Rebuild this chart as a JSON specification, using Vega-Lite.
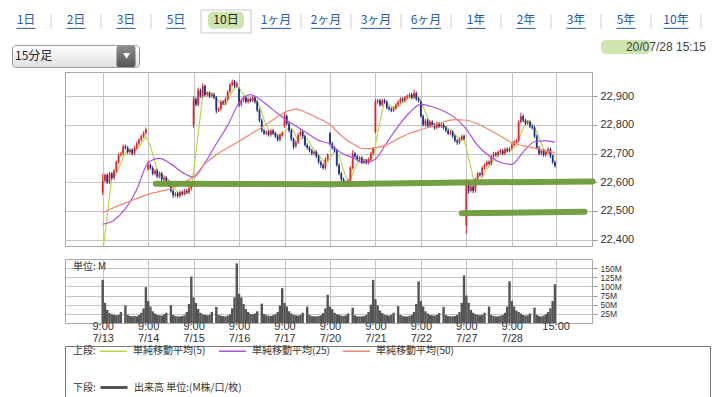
{
"$schema": "https://vega.github.io/schema/vega-lite/v6.json",
"background": "white",
"padding": 0,
"config": {
  "view": {"stroke": null},
  "font": "Noto Sans CJK JP",
  "axis": {"labelFont": "Liberation Sans", "labelColor": "#333333"},
  "legend": {"labelFont": "Noto Sans CJK JP", "titleFont": "Noto Sans CJK JP"}
},
"datasets": {
"tabs": [
{"tab":"1日","selected":false},{"tab":"2日","selected":false},{"tab":"3日","selected":false},{"tab":"5日","selected":false},{"tab":"10日","selected":true},{"tab":"1ヶ月","selected":false},{"tab":"2ヶ月","selected":false},{"tab":"3ヶ月","selected":false},{"tab":"6ヶ月","selected":false},{"tab":"1年","selected":false},{"tab":"2年","selected":false},{"tab":"3年","selected":false},{"tab":"5年","selected":false},{"tab":"10年","selected":false}
],
"bars": [
{"t":0,"o":22565,"h":22628,"l":22555,"c":22605,"v":118,"m":22353},
{"t":0.05,"o":22605,"h":22631,"l":22599,"c":22625,"v":55,"m":22420},
{"t":0.1,"o":22625,"h":22631,"l":22594,"c":22600,"v":36,"m":22481},
{"t":0.15,"o":22600,"h":22636,"l":22594,"c":22630,"v":27,"m":22550},
{"t":0.2,"o":22630,"h":22636,"l":22609,"c":22615,"v":24,"m":22615},
{"t":0.25,"o":22615,"h":22646,"l":22609,"c":22640,"v":22,"m":22622},
{"t":0.3,"o":22640,"h":22676,"l":22634,"c":22670,"v":21,"m":22631},
{"t":0.35,"o":22670,"h":22701,"l":22664,"c":22695,"v":22,"m":22650},
{"t":0.4,"o":22695,"h":22706,"l":22689,"c":22700,"v":30,"m":22664},
{"t":0.45,"o":22700,"h":22731,"l":22694,"c":22725,"v":null,"m":22686},
{"t":0.5,"o":22725,"h":22731,"l":22714,"c":22720,"v":48,"m":22702},
{"t":0.55,"o":22720,"h":22726,"l":22699,"c":22705,"v":22,"m":22709},
{"t":0.6,"o":22705,"h":22718,"l":22699,"c":22712,"v":19,"m":22712},
{"t":0.65,"o":22712,"h":22718,"l":22694,"c":22700,"v":18,"m":22712},
{"t":0.7,"o":22700,"h":22726,"l":22694,"c":22720,"v":19,"m":22711},
{"t":0.75,"o":22720,"h":22741,"l":22714,"c":22735,"v":18,"m":22714},
{"t":0.8,"o":22735,"h":22754,"l":22729,"c":22748,"v":22,"m":22723},
{"t":0.85,"o":22748,"h":22766,"l":22742,"c":22760,"v":28,"m":22733},
{"t":0.9,"o":22760,"h":22778,"l":22754,"c":22772,"v":40,"m":22747},
{"t":0.95,"o":22772,"h":22791,"l":22766,"c":22785,"v":98,"m":22760},
{"t":1,"o":22645,"h":22675,"l":22640,"c":22660,"v":60,"m":22745},
{"t":1.05,"o":22660,"h":22666,"l":22644,"c":22650,"v":45,"m":22725},
{"t":1.1,"o":22650,"h":22656,"l":22624,"c":22630,"v":32,"m":22699},
{"t":1.15,"o":22630,"h":22646,"l":22624,"c":22640,"v":26,"m":22673},
{"t":1.2,"o":22640,"h":22646,"l":22614,"c":22620,"v":22,"m":22640},
{"t":1.25,"o":22620,"h":22636,"l":22614,"c":22630,"v":21,"m":22634},
{"t":1.3,"o":22630,"h":22636,"l":22604,"c":22610,"v":20,"m":22626},
{"t":1.35,"o":22610,"h":22621,"l":22604,"c":22615,"v":24,"m":22623},
{"t":1.4,"o":22615,"h":22621,"l":22594,"c":22600,"v":28,"m":22615},
{"t":1.45,"o":22600,"h":22606,"l":22584,"c":22590,"v":null,"m":22609},
{"t":1.5,"o":22590,"h":22596,"l":22564,"c":22570,"v":49,"m":22597},
{"t":1.55,"o":22570,"h":22576,"l":22546,"c":22555,"v":22,"m":22586},
{"t":1.6,"o":22555,"h":22566,"l":22549,"c":22560,"v":19,"m":22575},
{"t":1.65,"o":22560,"h":22566,"l":22546,"c":22552,"v":18,"m":22565},
{"t":1.7,"o":22552,"h":22571,"l":22546,"c":22565,"v":18,"m":22560},
{"t":1.75,"o":22565,"h":22571,"l":22554,"c":22560,"v":19,"m":22558},
{"t":1.8,"o":22560,"h":22576,"l":22554,"c":22570,"v":21,"m":22561},
{"t":1.85,"o":22570,"h":22576,"l":22559,"c":22565,"v":30,"m":22562},
{"t":1.9,"o":22565,"h":22586,"l":22559,"c":22580,"v":52,"m":22568},
{"t":1.95,"o":22580,"h":22593,"l":22574,"c":22587,"v":127,"m":22572},
{"t":2,"o":22800,"h":22900,"l":22790,"c":22890,"v":70,"m":22638},
{"t":2.05,"o":22890,"h":22896,"l":22864,"c":22870,"v":55,"m":22698},
{"t":2.1,"o":22870,"h":22930,"l":22864,"c":22920,"v":38,"m":22769},
{"t":2.15,"o":22920,"h":22926,"l":22894,"c":22900,"v":28,"m":22833},
{"t":2.2,"o":22900,"h":22945,"l":22894,"c":22935,"v":24,"m":22903},
{"t":2.25,"o":22935,"h":22941,"l":22899,"c":22905,"v":22,"m":22906},
{"t":2.3,"o":22905,"h":22916,"l":22899,"c":22910,"v":21,"m":22914},
{"t":2.35,"o":22910,"h":22916,"l":22894,"c":22900,"v":22,"m":22910},
{"t":2.4,"o":22900,"h":22911,"l":22894,"c":22905,"v":30,"m":22911},
{"t":2.45,"o":22905,"h":22911,"l":22889,"c":22895,"v":null,"m":22903},
{"t":2.5,"o":22895,"h":22901,"l":22840,"c":22850,"v":44,"m":22892},
{"t":2.55,"o":22850,"h":22861,"l":22844,"c":22855,"v":22,"m":22881},
{"t":2.6,"o":22855,"h":22886,"l":22849,"c":22880,"v":20,"m":22877},
{"t":2.65,"o":22880,"h":22886,"l":22869,"c":22875,"v":19,"m":22871},
{"t":2.7,"o":22875,"h":22896,"l":22869,"c":22890,"v":18,"m":22870},
{"t":2.75,"o":22890,"h":22921,"l":22884,"c":22915,"v":20,"m":22883},
{"t":2.8,"o":22915,"h":22946,"l":22909,"c":22940,"v":24,"m":22900},
{"t":2.85,"o":22940,"h":22958,"l":22934,"c":22950,"v":40,"m":22914},
{"t":2.9,"o":22950,"h":22956,"l":22929,"c":22935,"v":70,"m":22926},
{"t":2.95,"o":22935,"h":22951,"l":22929,"c":22945,"v":163,"m":22937},
{"t":3,"o":22925,"h":22930,"l":22862,"c":22870,"v":80,"m":22928},
{"t":3.05,"o":22870,"h":22891,"l":22864,"c":22885,"v":70,"m":22917},
{"t":3.1,"o":22885,"h":22901,"l":22879,"c":22895,"v":52,"m":22906},
{"t":3.15,"o":22895,"h":22901,"l":22874,"c":22880,"v":38,"m":22895},
{"t":3.2,"o":22880,"h":22896,"l":22874,"c":22890,"v":30,"m":22884},
{"t":3.25,"o":22890,"h":22896,"l":22879,"c":22885,"v":25,"m":22887},
{"t":3.3,"o":22885,"h":22901,"l":22879,"c":22895,"v":24,"m":22889},
{"t":3.35,"o":22895,"h":22901,"l":22874,"c":22880,"v":26,"m":22886},
{"t":3.4,"o":22880,"h":22886,"l":22844,"c":22850,"v":32,"m":22880},
{"t":3.45,"o":22850,"h":22856,"l":22809,"c":22815,"v":null,"m":22865},
{"t":3.5,"o":22815,"h":22821,"l":22774,"c":22780,"v":53,"m":22844},
{"t":3.55,"o":22780,"h":22786,"l":22764,"c":22770,"v":25,"m":22819},
{"t":3.6,"o":22770,"h":22781,"l":22764,"c":22775,"v":21,"m":22798},
{"t":3.65,"o":22775,"h":22781,"l":22759,"c":22765,"v":20,"m":22781},
{"t":3.7,"o":22765,"h":22786,"l":22759,"c":22780,"v":19,"m":22774},
{"t":3.75,"o":22780,"h":22786,"l":22764,"c":22770,"v":21,"m":22772},
{"t":3.8,"o":22770,"h":22776,"l":22754,"c":22760,"v":24,"m":22770},
{"t":3.85,"o":22760,"h":22766,"l":22742,"c":22748,"v":30,"m":22765},
{"t":3.9,"o":22748,"h":22771,"l":22742,"c":22765,"v":48,"m":22765},
{"t":3.95,"o":22765,"h":22778,"l":22759,"c":22772,"v":95,"m":22763},
{"t":4,"o":22795,"h":22840,"l":22790,"c":22830,"v":55,"m":22775},
{"t":4.05,"o":22830,"h":22836,"l":22799,"c":22805,"v":45,"m":22784},
{"t":4.1,"o":22805,"h":22811,"l":22774,"c":22780,"v":32,"m":22790},
{"t":4.15,"o":22780,"h":22786,"l":22744,"c":22750,"v":26,"m":22787},
{"t":4.2,"o":22750,"h":22756,"l":22715,"c":22725,"v":22,"m":22778},
{"t":4.25,"o":22725,"h":22746,"l":22719,"c":22740,"v":21,"m":22760},
{"t":4.3,"o":22740,"h":22771,"l":22734,"c":22765,"v":20,"m":22752},
{"t":4.35,"o":22765,"h":22784,"l":22759,"c":22775,"v":22,"m":22751},
{"t":4.4,"o":22775,"h":22781,"l":22754,"c":22760,"v":28,"m":22753},
{"t":4.45,"o":22760,"h":22766,"l":22724,"c":22730,"v":null,"m":22754},
{"t":4.5,"o":22730,"h":22736,"l":22714,"c":22720,"v":45,"m":22750},
{"t":4.55,"o":22720,"h":22726,"l":22704,"c":22710,"v":22,"m":22739},
{"t":4.6,"o":22710,"h":22716,"l":22694,"c":22700,"v":19,"m":22724},
{"t":4.65,"o":22700,"h":22711,"l":22694,"c":22705,"v":18,"m":22713},
{"t":4.7,"o":22705,"h":22711,"l":22684,"c":22690,"v":18,"m":22705},
{"t":4.75,"o":22690,"h":22696,"l":22664,"c":22670,"v":19,"m":22695},
{"t":4.8,"o":22670,"h":22676,"l":22650,"c":22660,"v":21,"m":22685},
{"t":4.85,"o":22660,"h":22666,"l":22644,"c":22650,"v":27,"m":22675},
{"t":4.9,"o":22650,"h":22686,"l":22644,"c":22680,"v":40,"m":22670},
{"t":4.95,"o":22680,"h":22701,"l":22674,"c":22695,"v":77,"m":22671},
{"t":5,"o":22770,"h":22775,"l":22728,"c":22735,"v":45,"m":22684},
{"t":5.05,"o":22735,"h":22741,"l":22714,"c":22720,"v":38,"m":22696},
{"t":5.1,"o":22720,"h":22726,"l":22704,"c":22710,"v":28,"m":22708},
{"t":5.15,"o":22710,"h":22716,"l":22654,"c":22660,"v":24,"m":22704},
{"t":5.2,"o":22660,"h":22666,"l":22624,"c":22630,"v":22,"m":22691},
{"t":5.25,"o":22630,"h":22636,"l":22604,"c":22610,"v":20,"m":22666},
{"t":5.3,"o":22610,"h":22616,"l":22594,"c":22600,"v":19,"m":22642},
{"t":5.35,"o":22600,"h":22606,"l":22588,"c":22595,"v":21,"m":22619},
{"t":5.4,"o":22595,"h":22611,"l":22589,"c":22605,"v":26,"m":22608},
{"t":5.45,"o":22605,"h":22656,"l":22599,"c":22650,"v":null,"m":22612},
{"t":5.5,"o":22650,"h":22712,"l":22644,"c":22700,"v":42,"m":22630},
{"t":5.55,"o":22700,"h":22706,"l":22684,"c":22690,"v":21,"m":22648},
{"t":5.6,"o":22690,"h":22696,"l":22674,"c":22680,"v":18,"m":22665},
{"t":5.65,"o":22680,"h":22691,"l":22674,"c":22685,"v":18,"m":22681},
{"t":5.7,"o":22685,"h":22691,"l":22664,"c":22670,"v":18,"m":22685},
{"t":5.75,"o":22670,"h":22681,"l":22664,"c":22675,"v":19,"m":22680},
{"t":5.8,"o":22675,"h":22681,"l":22662,"c":22668,"v":22,"m":22676},
{"t":5.85,"o":22668,"h":22686,"l":22662,"c":22680,"v":30,"m":22676},
{"t":5.9,"o":22680,"h":22706,"l":22674,"c":22700,"v":50,"m":22679},
{"t":5.95,"o":22700,"h":22723,"l":22694,"c":22717,"v":118,"m":22688},
{"t":6,"o":22775,"h":22890,"l":22770,"c":22880,"v":65,"m":22729},
{"t":6.05,"o":22880,"h":22891,"l":22874,"c":22885,"v":48,"m":22772},
{"t":6.1,"o":22885,"h":22891,"l":22864,"c":22870,"v":34,"m":22810},
{"t":6.15,"o":22870,"h":22891,"l":22864,"c":22885,"v":27,"m":22847},
{"t":6.2,"o":22885,"h":22891,"l":22874,"c":22880,"v":23,"m":22880},
{"t":6.25,"o":22880,"h":22886,"l":22854,"c":22860,"v":21,"m":22876},
{"t":6.3,"o":22860,"h":22866,"l":22849,"c":22855,"v":20,"m":22870},
{"t":6.35,"o":22855,"h":22861,"l":22844,"c":22850,"v":22,"m":22866},
{"t":6.4,"o":22850,"h":22864,"l":22844,"c":22858,"v":28,"m":22861},
{"t":6.45,"o":22858,"h":22876,"l":22852,"c":22870,"v":null,"m":22859},
{"t":6.5,"o":22870,"h":22886,"l":22864,"c":22880,"v":46,"m":22863},
{"t":6.55,"o":22880,"h":22896,"l":22874,"c":22890,"v":22,"m":22870},
{"t":6.6,"o":22890,"h":22896,"l":22879,"c":22885,"v":19,"m":22877},
{"t":6.65,"o":22885,"h":22901,"l":22879,"c":22895,"v":18,"m":22884},
{"t":6.7,"o":22895,"h":22906,"l":22889,"c":22900,"v":18,"m":22890},
{"t":6.75,"o":22900,"h":22911,"l":22894,"c":22905,"v":19,"m":22895},
{"t":6.8,"o":22905,"h":22911,"l":22889,"c":22895,"v":22,"m":22896},
{"t":6.85,"o":22895,"h":22923,"l":22889,"c":22910,"v":30,"m":22901},
{"t":6.9,"o":22910,"h":22916,"l":22884,"c":22890,"v":52,"m":22900},
{"t":6.95,"o":22890,"h":22896,"l":22878,"c":22884,"v":114,"m":22897},
{"t":7,"o":22880,"h":22885,"l":22825,"c":22830,"v":60,"m":22882},
{"t":7.05,"o":22830,"h":22836,"l":22794,"c":22800,"v":45,"m":22863},
{"t":7.1,"o":22800,"h":22821,"l":22794,"c":22815,"v":32,"m":22844},
{"t":7.15,"o":22815,"h":22821,"l":22789,"c":22795,"v":26,"m":22825},
{"t":7.2,"o":22795,"h":22816,"l":22789,"c":22810,"v":22,"m":22810},
{"t":7.25,"o":22810,"h":22816,"l":22794,"c":22800,"v":21,"m":22804},
{"t":7.3,"o":22800,"h":22806,"l":22784,"c":22790,"v":20,"m":22802},
{"t":7.35,"o":22790,"h":22811,"l":22784,"c":22805,"v":22,"m":22800},
{"t":7.4,"o":22805,"h":22811,"l":22789,"c":22795,"v":27,"m":22800},
{"t":7.45,"o":22795,"h":22806,"l":22789,"c":22800,"v":null,"m":22798},
{"t":7.5,"o":22800,"h":22806,"l":22784,"c":22790,"v":44,"m":22796},
{"t":7.55,"o":22790,"h":22796,"l":22774,"c":22780,"v":22,"m":22794},
{"t":7.6,"o":22780,"h":22786,"l":22764,"c":22770,"v":19,"m":22787},
{"t":7.65,"o":22770,"h":22781,"l":22764,"c":22775,"v":18,"m":22783},
{"t":7.7,"o":22775,"h":22781,"l":22754,"c":22760,"v":18,"m":22775},
{"t":7.75,"o":22760,"h":22766,"l":22739,"c":22745,"v":19,"m":22766},
{"t":7.8,"o":22745,"h":22751,"l":22730,"c":22738,"v":22,"m":22758},
{"t":7.85,"o":22738,"h":22756,"l":22732,"c":22750,"v":30,"m":22754},
{"t":7.9,"o":22750,"h":22766,"l":22744,"c":22760,"v":55,"m":22751},
{"t":7.95,"o":22760,"h":22766,"l":22746,"c":22752,"v":130,"m":22749},
{"t":8,"o":22450,"h":22610,"l":22420,"c":22600,"v":75,"m":22720},
{"t":8.05,"o":22600,"h":22606,"l":22560,"c":22570,"v":55,"m":22686},
{"t":8.1,"o":22570,"h":22591,"l":22564,"c":22585,"v":36,"m":22653},
{"t":8.15,"o":22585,"h":22591,"l":22562,"c":22570,"v":28,"m":22615},
{"t":8.2,"o":22570,"h":22616,"l":22564,"c":22610,"v":24,"m":22587},
{"t":8.25,"o":22610,"h":22636,"l":22604,"c":22630,"v":22,"m":22593},
{"t":8.3,"o":22630,"h":22636,"l":22619,"c":22625,"v":21,"m":22604},
{"t":8.35,"o":22625,"h":22656,"l":22619,"c":22650,"v":22,"m":22617},
{"t":8.4,"o":22650,"h":22666,"l":22644,"c":22660,"v":28,"m":22635},
{"t":8.45,"o":22660,"h":22676,"l":22654,"c":22670,"v":null,"m":22647},
{"t":8.5,"o":22670,"h":22676,"l":22659,"c":22665,"v":45,"m":22654},
{"t":8.55,"o":22665,"h":22696,"l":22659,"c":22690,"v":22,"m":22667},
{"t":8.6,"o":22690,"h":22706,"l":22684,"c":22700,"v":19,"m":22677},
{"t":8.65,"o":22700,"h":22706,"l":22689,"c":22695,"v":18,"m":22684},
{"t":8.7,"o":22695,"h":22711,"l":22689,"c":22705,"v":18,"m":22691},
{"t":8.75,"o":22705,"h":22716,"l":22699,"c":22710,"v":20,"m":22700},
{"t":8.8,"o":22710,"h":22716,"l":22694,"c":22700,"v":22,"m":22702},
{"t":8.85,"o":22700,"h":22721,"l":22694,"c":22715,"v":28,"m":22705},
{"t":8.9,"o":22715,"h":22721,"l":22704,"c":22710,"v":45,"m":22708},
{"t":8.95,"o":22710,"h":22722,"l":22704,"c":22716,"v":114,"m":22710},
{"t":9,"o":22720,"h":22736,"l":22714,"c":22730,"v":60,"m":22714},
{"t":9.05,"o":22730,"h":22746,"l":22724,"c":22740,"v":45,"m":22722},
{"t":9.1,"o":22740,"h":22751,"l":22734,"c":22745,"v":34,"m":22728},
{"t":9.15,"o":22745,"h":22816,"l":22739,"c":22810,"v":30,"m":22748},
{"t":9.2,"o":22810,"h":22842,"l":22804,"c":22830,"v":26,"m":22771},
{"t":9.25,"o":22830,"h":22836,"l":22809,"c":22815,"v":22,"m":22788},
{"t":9.3,"o":22815,"h":22821,"l":22799,"c":22805,"v":20,"m":22801},
{"t":9.35,"o":22805,"h":22816,"l":22799,"c":22810,"v":21,"m":22814},
{"t":9.4,"o":22810,"h":22816,"l":22789,"c":22795,"v":26,"m":22811},
{"t":9.45,"o":22795,"h":22801,"l":22784,"c":22790,"v":null,"m":22803},
{"t":9.5,"o":22790,"h":22796,"l":22754,"c":22760,"v":42,"m":22792},
{"t":9.55,"o":22760,"h":22766,"l":22714,"c":22720,"v":22,"m":22775},
{"t":9.6,"o":22720,"h":22726,"l":22694,"c":22700,"v":19,"m":22753},
{"t":9.65,"o":22700,"h":22716,"l":22694,"c":22710,"v":18,"m":22736},
{"t":9.7,"o":22710,"h":22716,"l":22689,"c":22695,"v":20,"m":22717},
{"t":9.75,"o":22695,"h":22711,"l":22689,"c":22705,"v":24,"m":22706},
{"t":9.8,"o":22705,"h":22721,"l":22699,"c":22715,"v":30,"m":22705},
{"t":9.85,"o":22715,"h":22721,"l":22684,"c":22690,"v":40,"m":22703},
{"t":9.9,"o":22690,"h":22696,"l":22664,"c":22670,"v":60,"m":22695},
{"t":9.95,"o":22670,"h":22676,"l":22651,"c":22657,"v":106,"m":22687}
],
"ma": [
{"t":0,"ma25":22454,"ma50":22494},{"t":0.25,"ma25":22468,"ma50":22512},{"t":0.5,"ma25":22508,"ma50":22528},{"t":0.75,"ma25":22575,"ma50":22543},
{"t":1,"ma25":22668,"ma50":22558},{"t":1.25,"ma25":22683,"ma50":22568},{"t":1.5,"ma25":22664,"ma50":22578},{"t":1.75,"ma25":22635,"ma50":22596},
{"t":2,"ma25":22618,"ma50":22620},{"t":2.25,"ma25":22668,"ma50":22664},{"t":2.5,"ma25":22734,"ma50":22696},{"t":2.75,"ma25":22798,"ma50":22720},
{"t":3,"ma25":22876,"ma50":22743},{"t":3.25,"ma25":22905,"ma50":22767},{"t":3.5,"ma25":22884,"ma50":22791},{"t":3.75,"ma25":22852,"ma50":22818},
{"t":4,"ma25":22821,"ma50":22843},{"t":4.25,"ma25":22796,"ma50":22855},{"t":4.5,"ma25":22771,"ma50":22841},{"t":4.75,"ma25":22746,"ma50":22822},
{"t":5,"ma25":22733,"ma50":22801},{"t":5.25,"ma25":22702,"ma50":22762},{"t":5.5,"ma25":22686,"ma50":22734},{"t":5.75,"ma25":22667,"ma50":22717},
{"t":6,"ma25":22681,"ma50":22720},{"t":6.25,"ma25":22738,"ma50":22730},{"t":6.5,"ma25":22795,"ma50":22752},{"t":6.75,"ma25":22842,"ma50":22770},
{"t":7,"ma25":22871,"ma50":22783},{"t":7.25,"ma25":22863,"ma50":22796},{"t":7.5,"ma25":22848,"ma50":22810},{"t":7.75,"ma25":22825,"ma50":22818},
{"t":8,"ma25":22785,"ma50":22816},{"t":8.25,"ma25":22728,"ma50":22803},{"t":8.5,"ma25":22692,"ma50":22783},{"t":8.75,"ma25":22669,"ma50":22761},
{"t":9,"ma25":22662,"ma50":22738},{"t":9.25,"ma25":22705,"ma50":22727},{"t":9.5,"ma25":22741,"ma50":22719},{"t":9.75,"ma25":22744,"ma50":22710},
{"t":9.95,"ma25":22740,"ma50":22703}
],
"notes": [
{"id":"a","t":1.17,"p":22595},{"id":"a","t":5.0,"p":22593},{"id":"a","t":7.9,"p":22599},{"id":"a","t":10.78,"p":22603},
{"id":"b","t":7.9,"p":22492},{"id":"b","t":10.6,"p":22497}
]
},
"concat": [
{
  "width": 700,
  "height": 70,
  "layer": [
    {"data": {"name": "tabs"}, "transform": [{"filter": "datum.selected"}],
     "mark": {"type": "rect", "fill": "#ffffff", "stroke": "#c8c8c8", "strokeWidth": 1},
     "encoding": {
       "x": {"field": "tab", "type": "nominal", "scale": {"type": "band", "domain": ["1日","2日","3日","5日","10日","1ヶ月","2ヶ月","3ヶ月","6ヶ月","1年","2年","3年","5年","10年"], "range": [-64, 636], "paddingInner": 0, "paddingOuter": 0}, "axis": null},
       "y": {"datum": "tabs", "type": "nominal", "scale": {"type": "band", "domain": ["tabs","menu"], "paddingInner": 0.343, "paddingOuter": 0.171, "align": 0.833}, "axis": null}
     }},
    {"data": {"name": "tabs"}, "transform": [{"filter": "datum.selected"}],
     "mark": {"type": "tick", "orient": "horizontal", "size": 36, "thickness": 17, "color": "#cde5ae", "cornerRadius": 5, "opacity": 1},
     "encoding": {"x": {"field": "tab", "type": "nominal", "bandPosition": 0.45}, "y": {"datum": "tabs", "type": "nominal", "bandPosition": 0.45}}},
    {"data": {"name": "tabs"}, "transform": [{"filter": "!datum.selected && datum.tab != '5日'"}],
     "mark": {"type": "tick", "orient": "vertical", "size": 15, "thickness": 1, "color": "#d0d0d0", "opacity": 1},
     "encoding": {"x": {"field": "tab", "type": "nominal", "bandPosition": 1}, "y": {"datum": "tabs", "type": "nominal", "bandPosition": 0.45}}},
    {"data": {"name": "tabs"},
     "mark": {"type": "text", "fontSize": 12, "baseline": "middle"},
     "encoding": {"x": {"field": "tab", "type": "nominal"}, "y": {"datum": "tabs", "type": "nominal", "bandPosition": 0.45}, "text": {"field": "tab"},
       "color": {"condition": {"test": "datum.selected", "value": "#222222"}, "value": "#2559b0"}}},
    {"data": {"name": "tabs"}, "transform": [{"filter": "!datum.selected && length(datum.tab) == 2"}],
     "mark": {"type": "tick", "orient": "horizontal", "size": 19, "thickness": 1, "color": "#2559b0", "opacity": 1},
     "encoding": {"x": {"field": "tab", "type": "nominal"}, "y": {"datum": "tabs", "type": "nominal", "bandPosition": 0.8}}},
    {"data": {"name": "tabs"}, "transform": [{"filter": "datum.tab == '10年'"}],
     "mark": {"type": "tick", "orient": "horizontal", "size": 25, "thickness": 1, "color": "#2559b0", "opacity": 1},
     "encoding": {"x": {"field": "tab", "type": "nominal"}, "y": {"datum": "tabs", "type": "nominal", "bandPosition": 0.8}}},
    {"data": {"name": "tabs"}, "transform": [{"filter": "datum.tab == '1ヶ月' || datum.tab == '2ヶ月' || datum.tab == '3ヶ月' || datum.tab == '6ヶ月'"}],
     "mark": {"type": "tick", "orient": "horizontal", "size": 30, "thickness": 1, "color": "#2559b0", "opacity": 1},
     "encoding": {"x": {"field": "tab", "type": "nominal"}, "y": {"datum": "tabs", "type": "nominal", "bandPosition": 0.8}}},
    {"data": {"values": [{"anchor": "2日"}]},
     "mark": {"type": "tick", "orient": "horizontal", "size": 127, "thickness": 22, "cornerRadius": 3, "stroke": "#9a9a9a", "strokeWidth": 1, "opacity": 1,
       "color": {"gradient": "linear", "x1": 0, "y1": 0, "x2": 0, "y2": 1, "stops": [{"offset": 0, "color": "#ffffff"}, {"offset": 1, "color": "#e0e0e0"}]}},
     "encoding": {"x": {"field": "anchor", "type": "nominal", "bandPosition": 0.43}, "y": {"datum": "menu", "type": "nominal", "bandPosition": 0.5}}},
    {"data": {"values": [{"anchor": "3日"}]},
     "mark": {"type": "tick", "orient": "horizontal", "size": 19, "thickness": 21, "cornerRadius": 2, "opacity": 1,
       "color": {"gradient": "linear", "x1": 0, "y1": 0, "x2": 0, "y2": 1, "stops": [{"offset": 0, "color": "#8c8c8c"}, {"offset": 1, "color": "#555555"}]}},
     "encoding": {"x": {"field": "anchor", "type": "nominal", "bandPosition": 0.51}, "y": {"datum": "menu", "type": "nominal", "bandPosition": 0.5}}},
    {"data": {"values": [{"label": "▼"}]},
     "mark": {"type": "text", "fontSize": 7, "color": "#ffffff", "baseline": "middle"},
     "encoding": {"x": {"datum": "3日", "type": "nominal", "bandPosition": 0.51}, "y": {"datum": "menu", "type": "nominal", "bandPosition": 0.5}, "text": {"field": "label"}}},
    {"data": {"values": [{"label": "15分足"}]},
     "mark": {"type": "text", "fontSize": 12, "align": "left", "baseline": "middle", "color": "#222222"},
     "encoding": {"x": {"datum": "1日", "type": "nominal", "bandPosition": 0.28}, "y": {"datum": "menu", "type": "nominal", "bandPosition": 0.5}, "text": {"field": "label"}}},
    {"data": {"values": [{"anchor": "5年"}]},
     "mark": {"type": "tick", "orient": "horizontal", "size": 50, "thickness": 14, "cornerRadius": 5, "color": "#cde5ae", "opacity": 1},
     "encoding": {"x": {"field": "anchor", "type": "nominal", "bandPosition": 0.86}, "y": {"datum": "menu", "type": "nominal", "bandPosition": 0.09}}},
    {"data": {"values": [{"label": "20/07/28 15:15"}]},
     "mark": {"type": "text", "fontSize": 12, "align": "right", "baseline": "middle", "color": "#444444", "font": "Liberation Sans"},
     "encoding": {"x": {"datum": "10年", "type": "nominal", "bandPosition": 1.1}, "y": {"datum": "menu", "type": "nominal", "bandPosition": 0.09}, "text": {"field": "label"}}}
  ]
},
{
  "vconcat": [
    {
      "width": 527,
      "height": 174,
      "view": {"stroke": "#a8a8a8", "fill": "#ffffff"},
      "layer": [
        {"data": {"name": "bars"},
         "mark": {"type": "line", "color": "#bcd64a", "strokeWidth": 1.2, "clip": true},
         "encoding": {
           "x": {"field": "t", "type": "quantitative", "scale": {"domain": [-0.719, 10.655], "nice": false, "zero": false},
                 "axis": {"values": [0,1,2,3,4,5,6,7,8,9,9.965], "grid": true, "gridColor": "#c4c4c4", "labels": false, "ticks": false, "domain": false, "title": null}},
           "y": {"field": "m", "type": "quantitative", "scale": {"domain": [22378, 22984], "nice": false, "zero": false},
                 "axis": {"orient": "left", "labelOpacity": 0, "ticks": false, "domain": false, "grid": false, "title": null, "minExtent": 64, "maxExtent": 64}}
         }},
        {"data": {"name": "bars"},
         "mark": {"type": "rule", "strokeWidth": 1},
         "encoding": {
           "x": {"field": "t", "type": "quantitative", "scale": {"domain": [-0.719, 10.655], "nice": false, "zero": false}},
           "y": {"field": "l", "type": "quantitative", "scale": {"domain": [22378, 22984], "nice": false, "zero": false},
                 "axis": {"orient": "right", "values": [22400,22500,22600,22700,22800,22900], "labelExpr": "format(datum.value, ',')", "grid": true, "gridColor": "#c4c4c4", "domain": false, "tickSize": 5, "tickColor": "#999999", "labelFontSize": 11, "labelPadding": 3, "title": null}},
           "y2": {"field": "h"},
           "color": {"condition": {"test": "datum.c < datum.o", "value": "#1d3287"}, "value": "#e3262b"}
         }},
        {"data": {"name": "bars"},
         "mark": {"type": "bar", "size": 1.8},
         "encoding": {
           "x": {"field": "t", "type": "quantitative", "scale": {"domain": [-0.719, 10.655], "nice": false, "zero": false}},
           "y": {"field": "o", "type": "quantitative", "scale": {"domain": [22378, 22984], "nice": false, "zero": false}, "axis": null},
           "y2": {"field": "c"},
           "color": {"condition": {"test": "datum.c < datum.o", "value": "#1d3287"}, "value": "#e3262b"}
         }},
        {"data": {"name": "ma"},
         "mark": {"type": "line", "color": "#a952dd", "strokeWidth": 1.2, "interpolate": "monotone"},
         "encoding": {
           "x": {"field": "t", "type": "quantitative", "scale": {"domain": [-0.719, 10.655], "nice": false, "zero": false}},
           "y": {"field": "ma25", "type": "quantitative", "scale": {"domain": [22378, 22984], "nice": false, "zero": false}, "axis": null}
         }},
        {"data": {"name": "ma"},
         "mark": {"type": "line", "color": "#f0876e", "strokeWidth": 1.2, "interpolate": "monotone"},
         "encoding": {
           "x": {"field": "t", "type": "quantitative", "scale": {"domain": [-0.719, 10.655], "nice": false, "zero": false}},
           "y": {"field": "ma50", "type": "quantitative", "scale": {"domain": [22378, 22984], "nice": false, "zero": false}, "axis": null}
         }},
        {"data": {"name": "notes"},
         "mark": {"type": "line", "color": "#6c9a3b", "strokeWidth": 6, "strokeCap": "round", "opacity": 0.95},
         "encoding": {
           "x": {"field": "t", "type": "quantitative", "scale": {"domain": [-0.719, 10.655], "nice": false, "zero": false}},
           "y": {"field": "p", "type": "quantitative", "scale": {"domain": [22378, 22984], "nice": false, "zero": false}, "axis": null},
           "detail": {"field": "id"}
         }}
      ],
      "resolve": {"axis": {"y": "independent"}}
    },
    {
      "vconcat": [
        {
          "width": 527,
          "height": 64,
          "view": {"stroke": "#a8a8a8", "fill": "#ffffff"},
          "layer": [
            {"data": {"name": "bars"},
             "mark": {"type": "bar", "size": 2.4, "color": "#555555"},
             "encoding": {
               "x": {"field": "t", "type": "quantitative", "scale": {"domain": [-0.719, 10.655], "nice": false, "zero": false},
                     "axis": {"values": [0,1,2,3,4,5,6,7,8,9,9.965], "grid": true, "gridColor": "#c4c4c4", "ticks": false, "domain": false, "labelFontSize": 11, "labelPadding": -3, "labelLineHeight": 12, "labelBaseline": "top", "labelOverlap": false, "labelBound": false, "title": null,
                              "labelExpr": "datum.value > 9.5 ? '15:00' : ['9:00', ['7/13','7/14','7/15','7/16','7/17','7/20','7/21','7/22','7/27','7/28'][datum.value]]"}},
               "y": {"field": "v", "type": "quantitative", "scale": {"domain": [0, 175], "nice": false},
                     "axis": {"orient": "right", "values": [25,50,75,100,125,150], "labelExpr": "datum.value + 'M'", "grid": true, "gridColor": "#c4c4c4", "domain": false, "tickSize": 5, "tickColor": "#999999", "labelFontSize": 8.5, "labelPadding": 3, "labelOverlap": false, "labelBound": false, "title": null}}
             }},
            {"data": {"values": [{"label": "単位: M"}]},
             "mark": {"type": "text", "align": "left", "baseline": "middle", "fontSize": 10, "color": "#333333"},
             "encoding": {
               "x": {"datum": -0.655, "type": "quantitative", "scale": {"domain": [-0.719, 10.655], "nice": false, "zero": false},
                     "axis": {"values": [0,1,2,3,4,5,6,7,8,9,9.965], "grid": true, "gridColor": "#c4c4c4", "ticks": false, "domain": false, "labelFontSize": 11, "labelPadding": -3, "labelLineHeight": 12, "labelBaseline": "top", "labelOverlap": false, "labelBound": false, "title": null,
                              "labelExpr": "datum.value > 9.5 ? '15:00' : ['9:00', ['7/13','7/14','7/15','7/16','7/17','7/20','7/21','7/22','7/27','7/28'][datum.value]]"}},
               "y": {"datum": 154, "type": "quantitative", "scale": {"domain": [0, 175], "nice": false},
                     "axis": {"orient": "right", "values": [25,50,75,100,125,150], "labelExpr": "datum.value + 'M'", "grid": true, "gridColor": "#c4c4c4", "domain": false, "tickSize": 5, "tickColor": "#999999", "labelFontSize": 8.5, "labelPadding": 3, "labelOverlap": false, "labelBound": false, "title": null}},
               "text": {"field": "label"}
             }}
          ]
        },
        {
          "width": 645,
          "height": 51,
          "view": {"stroke": "#777777", "fill": "#ffffff"},
          "layer": [
            {"data": {"values": [{"s": "単純移動平均(5)"}, {"s": "単純移動平均(25)"}, {"s": "単純移動平均(50)"}]},
             "mark": {"type": "line", "opacity": 0},
             "encoding": {
               "color": {"field": "s", "type": "nominal",
                 "scale": {"domain": ["単純移動平均(5)", "単純移動平均(25)", "単純移動平均(50)"], "range": ["#bcd64a", "#a952dd", "#f0876e"]},
                 "legend": {"orient": "none", "legendX": 8, "legendY": -9.5, "direction": "horizontal", "title": "上段:", "titleOrient": "left", "titleAnchor": "middle", "titleBaseline": "line-top", "titleLineHeight": 8, "titlePadding": 3, "titleFontSize": 10, "titleFontWeight": "normal", "titleColor": "#333333",
                   "symbolType": "stroke", "symbolSize": 729, "symbolStrokeWidth": 1.5, "symbolOpacity": 1, "labelFontSize": 10, "labelColor": "#333333", "labelOffset": 5, "columnPadding": 10, "padding": 0}}
             }},
            {"data": {"values": [{"s": "出来高 単位:(M株/口/枚)"}]},
             "mark": {"type": "line", "opacity": 0},
             "encoding": {
               "color": {"field": "s", "type": "nominal",
                 "scale": {"domain": ["出来高 単位:(M株/口/枚)"], "range": ["#555555"]},
                 "legend": {"orient": "none", "legendX": 8, "legendY": 26.5, "direction": "horizontal", "title": "下段:", "titleOrient": "left", "titleAnchor": "middle", "titleBaseline": "line-top", "titleLineHeight": 8, "titlePadding": 3, "titleFontSize": 10, "titleFontWeight": "normal", "titleColor": "#333333",
                   "symbolType": "stroke", "symbolSize": 729, "symbolStrokeWidth": 3, "symbolOpacity": 1, "labelFontSize": 10, "labelColor": "#333333", "labelOffset": 5, "columnPadding": 10, "padding": 0}}
             }}
          ],
          "resolve": {"scale": {"color": "independent"}}
        }
      ],
      "spacing": 23,
      "bounds": "flush"
    }
  ],
  "spacing": 11
}
],
"columns": 1,
"align": "none",
"bounds": "full",
"spacing": 1
}
